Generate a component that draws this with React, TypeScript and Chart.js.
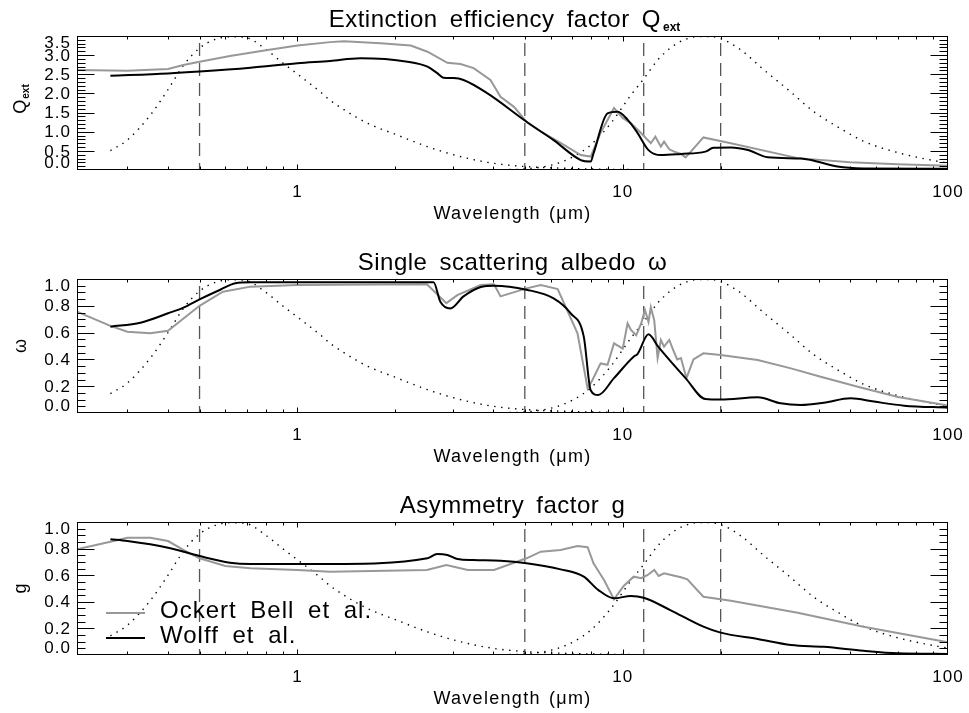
import React, { useEffect, useRef } from 'react';
import { Chart, registerables } from 'chart.js';

Chart.register(...registerables);

// ---------- axis settings ----------
const X_MIN = 0.21;
const X_MAX = 100;
const xTickValues = [1, 10, 100];
const xTickLabels = ['1', '10', '100'];
const xDecades = [0.1, 1, 10, 100];
const markerWavelengths = [0.5, 5, 11.6, 20];

const qextTickValues = [0, 0.5, 1, 1.5, 2, 2.5, 3, 3.5];
const qextTickLabels = ['0.0', '0.5', '1.0', '1.5', '2.0', '2.5', '3.0', '3.5'];
const unitTickValues = [0, 0.2, 0.4, 0.6, 0.8, 1.0];
const unitTickLabels = ['0.0', '0.2', '0.4', '0.6', '0.8', '1.0'];

const legendLabels = ['Ockert Bell et al.', 'Wolff et al.'];

// ---------- data: [wavelength (um), value] ----------
const qextOckert = [
  [0.21, 2.61], [0.30, 2.59], [0.40, 2.64], [0.446, 2.74], [0.50, 2.83], [0.62, 2.98], [0.80, 3.13],
  [1.0, 3.25], [1.26, 3.34], [1.39, 3.36], [1.8, 3.31], [2.23, 3.25], [2.51, 3.09], [2.89, 2.80],
  [3.17, 2.77], [3.48, 2.66], [3.92, 2.35], [4.21, 1.91], [4.63, 1.65], [5.06, 1.26], [5.6, 1.00],
  [6.44, 0.71], [7.43, 0.39], [7.97, 0.35], [8.55, 0.97], [9.4, 1.62], [10.0, 1.36], [10.6, 1.22],
  [11.4, 0.96], [12.2, 0.70], [12.6, 0.87], [13.1, 0.61], [13.4, 0.74], [13.9, 0.54], [14.4, 0.48],
  [15.1, 0.42], [15.6, 0.33], [16.2, 0.48], [17.7, 0.85], [21.5, 0.70], [34.5, 0.31], [50, 0.20],
  [70, 0.15], [100, 0.11],
];
const qextWolff = [
  [0.266, 2.46], [0.40, 2.52], [0.50, 2.57], [0.717, 2.67], [1.0, 2.79], [1.26, 2.85], [1.56, 2.92],
  [2.18, 2.83], [2.51, 2.70], [2.69, 2.53], [2.81, 2.41], [3.02, 2.40], [3.24, 2.35], [3.84, 2.00],
  [5.06, 1.26], [6.13, 0.78], [7.43, 0.26], [7.97, 0.22], [8.13, 0.43], [8.98, 1.48], [9.65, 1.52],
  [10.36, 1.31], [11.1, 0.97], [12.0, 0.52], [13.1, 0.39], [15.1, 0.42], [17.95, 0.48], [19.0, 0.58],
  [21.5, 0.59], [24.3, 0.52], [27.9, 0.33], [35.3, 0.30], [37.9, 0.26], [45.7, 0.09], [55, 0.04],
  [100, 0.03],
];
const albedoOckert = [
  [0.21, 0.756], [0.266, 0.65], [0.30, 0.607], [0.353, 0.595], [0.40, 0.614], [0.50, 0.80],
  [0.59, 0.905], [0.717, 0.943], [1.0, 0.955], [2.5, 0.96], [2.87, 0.82], [3.1, 0.88], [3.66, 0.955],
  [4.02, 0.96], [4.21, 0.87], [5.06, 0.93], [5.6, 0.955], [6.31, 0.925], [7.26, 0.595], [7.8, 0.184],
  [8.07, 0.246], [8.55, 0.37], [8.98, 0.36], [9.4, 0.52], [10.0, 0.48], [10.35, 0.67], [10.6, 0.62],
  [11.0, 0.58], [11.4, 0.67], [11.7, 0.77], [12.0, 0.68], [12.2, 0.79], [12.5, 0.69], [12.8, 0.41],
  [13.1, 0.545], [13.4, 0.495], [13.9, 0.545], [14.3, 0.47], [14.7, 0.40], [15.1, 0.41], [15.7, 0.26],
  [16.5, 0.40], [17.7, 0.445], [20, 0.433], [26, 0.395], [32.9, 0.333], [40.6, 0.27], [52.8, 0.196],
  [70.2, 0.12], [100, 0.055],
];
const albedoWolff = [
  [0.266, 0.644], [0.329, 0.674], [0.40, 0.744], [0.446, 0.786], [0.50, 0.848], [0.579, 0.92],
  [0.644, 0.968], [0.717, 0.975], [2.62, 0.975], [2.75, 0.83], [2.95, 0.78], [3.24, 0.87],
  [3.66, 0.94], [4.02, 0.95], [5.06, 0.92], [6.13, 0.856], [6.92, 0.744], [7.59, 0.57], [7.97, 0.17],
  [8.4, 0.134], [9.4, 0.26], [10.8, 0.42], [11.1, 0.44], [12.0, 0.587], [12.85, 0.495], [15.6, 0.26],
  [17.95, 0.104], [20, 0.10], [26, 0.117], [30.6, 0.072], [35.3, 0.06], [41.5, 0.077], [50.2, 0.11],
  [59.2, 0.085], [73.3, 0.055], [100, 0.04],
];
const asymOckert = [
  [0.21, 0.795], [0.266, 0.852], [0.30, 0.882], [0.353, 0.882], [0.40, 0.857], [0.446, 0.79],
  [0.50, 0.727], [0.60, 0.67], [0.717, 0.652], [1.0, 0.64], [1.26, 0.626], [2.5, 0.64], [2.87, 0.677],
  [3.34, 0.64], [4.02, 0.64], [5.06, 0.727], [5.6, 0.777], [6.44, 0.79], [7.26, 0.82], [7.8, 0.81],
  [8.13, 0.69], [8.76, 0.564], [9.4, 0.419], [10.07, 0.519], [10.8, 0.589], [11.4, 0.577],
  [11.9, 0.60], [12.5, 0.64], [12.9, 0.594], [13.4, 0.614], [14.2, 0.60], [15.1, 0.584],
  [15.8, 0.569], [17.7, 0.438], [21.5, 0.408], [34.5, 0.318], [55, 0.213], [100, 0.095],
];
const asymWolff = [
  [0.266, 0.87], [0.30, 0.857], [0.40, 0.807], [0.50, 0.744], [0.62, 0.694], [0.717, 0.684],
  [1.26, 0.684], [2.51, 0.727], [2.69, 0.76], [2.89, 0.752], [3.1, 0.722], [3.48, 0.714],
  [4.21, 0.709], [5.06, 0.69], [6.44, 0.644], [7.59, 0.589], [8.4, 0.49], [9.4, 0.426], [10.6, 0.444],
  [11.6, 0.43], [14.0, 0.338], [17.7, 0.213], [20, 0.168], [26, 0.12], [32.9, 0.075], [41.5, 0.062],
  [55, 0.032], [70, 0.013], [100, 0.008],
];
// dotted reference spectra, as fraction of the panel height
const solarShape = [
  [0.266, 0.144], [0.30, 0.224], [0.353, 0.41], [0.40, 0.60], [0.446, 0.78], [0.50, 0.91],
  [0.56, 0.975], [0.622, 0.995], [0.692, 0.99], [0.80, 0.90], [0.90, 0.80], [1.02, 0.70],
  [1.18, 0.58], [1.26, 0.52], [1.39, 0.45], [1.64, 0.35], [2.03, 0.26], [2.51, 0.174], [3.17, 0.10],
  [4.0, 0.05], [5.06, 0.025], [6.78, 0.012], [10, 0.004], [20, 0.001], [100, 0],
];
const thermalShape = [
  [0.266, 0], [3.0, 0], [4.0, 0.002], [5.0, 0.008], [6.0, 0.035], [7.0, 0.095], [8.0, 0.19],
  [9.2, 0.35], [10.6, 0.56], [11.6, 0.68], [12.8, 0.82], [14.0, 0.91], [15.4, 0.97], [17.0, 0.995],
  [18.7, 0.995], [20.5, 0.97], [23.1, 0.895], [27.2, 0.746], [32.2, 0.60], [38.7, 0.435],
  [45.7, 0.323], [55, 0.215], [70, 0.13], [97, 0.057], [100, 0.052],
];

const GRAY = '#989898';
const FONT = '"Liberation Sans", Arial, sans-serif';

type Panel = {
  top: number;
  height: number;
  padBottom: number;
  ymax: number;
  yMinor: number;
  tickValues: number[];
  tickLabels: string[];
  title: string;
  titleSub?: string;
  titleShift: number;
  yTitle: string;
  yTitleSub?: string;
  ockert: number[][];
  wolff: number[][];
  legend: boolean;
};

const panels: Panel[] = [
  {
    top: 0, height: 227, padBottom: 57, ymax: 3.5, yMinor: 0.1,
    tickValues: qextTickValues, tickLabels: qextTickLabels,
    title: 'Extinction efficiency factor Q', titleSub: 'ext', titleShift: -8,
    yTitle: 'Q', yTitleSub: 'ext', ockert: qextOckert, wolff: qextWolff, legend: false,
  },
  {
    top: 243, height: 227, padBottom: 57, ymax: 1.0, yMinor: 0.05,
    tickValues: unitTickValues, tickLabels: unitTickLabels,
    title: 'Single scattering albedo \u03C9', titleShift: 0,
    yTitle: '\u03C9', ockert: albedoOckert, wolff: albedoWolff, legend: false,
  },
  {
    top: 486, height: 227, padBottom: 58, ymax: 1.0, yMinor: 0.05,
    tickValues: unitTickValues, tickLabels: unitTickLabels,
    title: 'Asymmetry factor g', titleShift: 0,
    yTitle: 'g', ockert: asymOckert, wolff: asymWolff, legend: true,
  },
];

const toXY = (arr: number[][], scale = 1) => arr.map(([x, y]) => ({ x, y: y * scale }));

function setText(ctx: any, font: string, ls = 0, ws = 0) {
  ctx.font = font;
  try {
    ctx.letterSpacing = ls + 'px';
    ctx.wordSpacing = ws + 'px';
  } catch (e) {
    /* ignore */
  }
}

function makePlugin(p: Panel) {
  return {
    id: 'idlFrame',
    afterDraw(chart: any) {
      const ctx = chart.ctx;
      const a = chart.chartArea;
      const xs = chart.scales.x;
      const ys = chart.scales.y;
      ctx.save();
      ctx.strokeStyle = '#000';
      ctx.fillStyle = '#000';
      ctx.lineWidth = 1;
      const L = Math.round(a.left) + 0.5;
      const R = Math.round(a.right) - 0.5;
      const T = Math.round(a.top) + 0.5;
      const B = Math.round(a.bottom) - 0.5;
      ctx.strokeRect(L, T, R - L, B - T);

      // x ticks (log)
      ctx.beginPath();
      xDecades.forEach((d) => {
        for (let m = 1; m <= 9; m++) {
          const v = m * d;
          if (v < X_MIN - 1e-9 || v > X_MAX + 1e-9) continue;
          const px = Math.min(R, Math.round(xs.getPixelForValue(v)) + 0.5);
          const len = m === 1 ? 5 : 3;
          ctx.moveTo(px, B);
          ctx.lineTo(px, B - len);
          ctx.moveTo(px, T);
          ctx.lineTo(px, T + len);
        }
      });
      ctx.stroke();

      // y ticks
      ctx.beginPath();
      const n = Math.round(p.ymax / p.yMinor);
      for (let i = 0; i <= n; i++) {
        const v = i * p.yMinor;
        const major = p.tickValues.some((t) => Math.abs(t - v) < 1e-6);
        let py = Math.round(ys.getPixelForValue(v)) + 0.5;
        py = Math.max(T, Math.min(B, py));
        const len = major ? 17 : 8;
        ctx.moveTo(L, py);
        ctx.lineTo(L + len, py);
        ctx.moveTo(R, py);
        ctx.lineTo(R - len, py);
      }
      ctx.stroke();

      // y tick labels
      setText(ctx, '17px ' + FONT, 1);
      ctx.textAlign = 'right';
      ctx.textBaseline = 'middle';
      p.tickValues.forEach((v, i) => {
        let py = ys.getPixelForValue(v) + 1;
        py = Math.max(a.top + 7.5, Math.min(a.bottom - 6.5, py));
        ctx.fillText(p.tickLabels[i], a.left - 6, py);
      });

      // x tick labels
      ctx.textAlign = 'center';
      xTickValues.forEach((v, i) => {
        ctx.fillText(xTickLabels[i], xs.getPixelForValue(v), a.bottom + 22);
      });

      // x title
      setText(ctx, '18px ' + FONT, 1.3, 2);
      ctx.fillText('Wavelength (\u03BCm)', (a.left + a.right) / 2, a.bottom + 44);

      // panel title
      ctx.textBaseline = 'alphabetic';
      ctx.textAlign = 'left';
      setText(ctx, '24px ' + FONT, 0.5, 5);
      const wMain = ctx.measureText(p.title).width;
      let wSub = 0;
      if (p.titleSub) {
        setText(ctx, 'bold 12px ' + FONT, 0, 0);
        wSub = ctx.measureText(p.titleSub).width + 2;
      }
      const tx = (a.left + a.right) / 2 + p.titleShift - (wMain + wSub) / 2;
      const tb = a.top - 9;
      setText(ctx, '24px ' + FONT, 0.5, 5);
      ctx.fillText(p.title, tx, tb);
      if (p.titleSub) {
        setText(ctx, 'bold 12px ' + FONT, 0, 0);
        ctx.fillText(p.titleSub, tx + wMain + 2, tb + 4);
      }

      // y title (rotated)
      ctx.save();
      const cy = (a.top + a.bottom) / 2;
      ctx.translate(26, cy);
      ctx.rotate(-Math.PI / 2);
      setText(ctx, '18px ' + FONT, 0, 0);
      const wq = ctx.measureText(p.yTitle).width;
      let wqs = 0;
      if (p.yTitleSub) {
        setText(ctx, 'bold 10px ' + FONT, 0, 0);
        wqs = ctx.measureText(p.yTitleSub).width + 1;
      }
      const sx = -(wq + wqs) / 2 + (p.yTitleSub ? 4 : 0);
      setText(ctx, '18px ' + FONT, 0, 0);
      ctx.textAlign = 'left';
      ctx.fillText(p.yTitle, sx, 0);
      if (p.yTitleSub) {
        setText(ctx, 'bold 10px ' + FONT, 0, 0);
        ctx.fillText(p.yTitleSub, sx + wq + 1, 3);
      }
      ctx.restore();

      // legend
      if (p.legend) {
        const colors = [GRAY, '#000'];
        const rows = [127, 152];
        legendLabels.forEach((lab, i) => {
          ctx.strokeStyle = colors[i];
          ctx.lineWidth = 2;
          ctx.beginPath();
          ctx.moveTo(106, rows[i]);
          ctx.lineTo(145, rows[i]);
          ctx.stroke();
          setText(ctx, '24px ' + FONT, 1, 6);
          ctx.fillStyle = '#000';
          ctx.textAlign = 'left';
          ctx.textBaseline = 'middle';
          ctx.fillText(lab, 160, rows[i] - 2);
        });
      }
      setText(ctx, '12px ' + FONT, 0, 0);
      ctx.restore();
    },
  };
}

function buildConfig(p: Panel): any {
  const datasets: any[] = [];
  datasets.push({
    data: toXY(p.wolff), borderColor: '#000', borderWidth: 2, order: 0,
    cubicInterpolationMode: 'monotone',
  });
  datasets.push({
    data: toXY(p.ockert), borderColor: GRAY, borderWidth: 2, order: 1,
  });
  datasets.push({
    data: toXY(solarShape, p.ymax), borderColor: '#000', borderWidth: 1.4,
    borderDash: [1.4, 5.6], order: 2, cubicInterpolationMode: 'monotone',
  });
  datasets.push({
    data: toXY(thermalShape, p.ymax), borderColor: '#000', borderWidth: 1.4,
    borderDash: [1.4, 5.6], order: 2, cubicInterpolationMode: 'monotone',
  });
  markerWavelengths.forEach((w) => {
    datasets.push({
      data: [{ x: w, y: p.ymax }, { x: w, y: 0 }],
      borderColor: '#555', borderWidth: 1.3, borderDash: [13, 7], borderDashOffset: 13, order: 3,
    });
  });
  return {
    type: 'line',
    data: { datasets },
    options: {
      animation: false,
      responsive: false,
      maintainAspectRatio: false,
      devicePixelRatio: 1,
      events: [],
      layout: { padding: { left: 77, right: 21, top: 36, bottom: p.padBottom } },
      elements: { point: { radius: 0 }, line: { tension: 0, fill: false } },
      scales: {
        x: { type: 'logarithmic', min: X_MIN, max: X_MAX, display: false },
        y: { type: 'linear', min: 0, max: p.ymax, display: false },
      },
      plugins: { legend: { display: false }, tooltip: { enabled: false }, title: { display: false } },
    },
    plugins: [makePlugin(p)],
  };
}

export default function App() {
  const r0 = useRef<HTMLCanvasElement>(null);
  const r1 = useRef<HTMLCanvasElement>(null);
  const r2 = useRef<HTMLCanvasElement>(null);
  const refs = [r0, r1, r2];

  useEffect(() => {
    const charts = panels.map((p, i) => new Chart(refs[i].current as HTMLCanvasElement, buildConfig(p)));
    return () => charts.forEach((c) => c.destroy());
  }, []);

  return (
    <div style={{ position: 'absolute', left: 0, top: 0, width: 969, height: 713, background: '#fff' }}>
      {panels.map((p, i) => (
        <canvas
          key={i}
          ref={refs[i]}
          width={969}
          height={p.height}
          style={{ position: 'absolute', left: 0, top: p.top, width: 969, height: p.height }}
        />
      ))}
    </div>
  );
}
